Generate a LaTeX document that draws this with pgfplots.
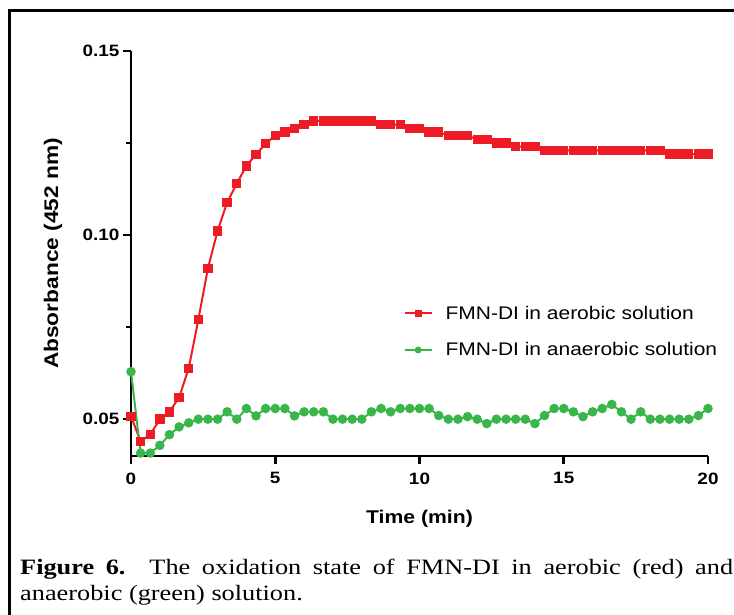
\documentclass[border=0pt]{standalone}
\usepackage{fontspec}
\setmainfont{Liberation Sans}[FakeStretch=1.15]
\newfontfamily\capfont[FakeStretch=1.2]{Liberation Serif}
\usepackage{pgfplots}
\pgfplotsset{compat=1.18}
\definecolor{aerored}{RGB}{237,28,36}
\definecolor{anaegreen}{RGB}{57,181,74}

\begin{document}
\begin{tikzpicture}
\useasboundingbox (0,0) rectangle (734bp,-615bp);
% frame of the cropped figure
\draw[line width=3bp] (9bp,-615bp) -- (9bp,-10.8bp) -- (734bp,-10.8bp);
\begin{axis}[
  at={(131bp,-456bp)}, anchor=south west,
  scale only axis, width=577bp, height=405bp,
  xmin=0, xmax=20, ymin=0.04, ymax=0.15,
  axis lines=left,
  axis line style={-, line width=2.6bp, black},
  every outer x axis line/.append style={-},
  every outer y axis line/.append style={-},
  clip=false,
  xtick={0,5,10,15,20},
  ytick={0.05,0.10,0.15},
  minor ytick={0.075,0.125},
  scaled y ticks=false,
  tick align=outside,
  major tick length=8bp, minor tick length=5bp,
  every tick/.style={black, line width=2.6bp},
  yticklabel style={/pgf/number format/.cd, fixed, fixed zerofill, precision=2},
  xticklabel style={yshift=-5bp},
  /pgf/number format/assume math mode=true,
  tick label style={font=\fontsize{16.5}{18}\selectfont\bfseries},
  xlabel={Time (min)}, ylabel={Absorbance (452 nm)},
  xlabel style={font=\fontsize{18.5}{22}\selectfont\bfseries,
    at={(axis description cs:0.5,-0.1556)}, anchor=center},
  ylabel style={font=\fontsize{19.8}{22}\selectfont\bfseries,
    at={(axis description cs:-0.135,0.5)}, anchor=center},
  legend style={at={(0.467,0.307)}, anchor=west, draw=none, fill=none,
    font=\fontsize{18.3}{22}\selectfont, row sep=18bp,
    /tikz/every odd column/.append style={column sep=11bp}},
  legend cell align=left,
  legend image code/.code={\draw[mark repeat=2, mark phase=2, mark size=2.4bp, #1]
    plot coordinates {(0bp,0bp) (13.5bp,0bp) (27bp,0bp)};},
]
\addplot[aerored, line width=2bp, mark=square*, mark size=3.7bp] coordinates {
(0,0.0508) (0.333,0.044) (0.667,0.0458) (1,0.050) (1.333,0.052) (1.667,0.0559)
(2,0.0638) (2.333,0.077) (2.667,0.091) (3,0.1011) (3.333,0.1089) (3.667,0.114)
(4,0.1188) (4.333,0.1219) (4.667,0.1249) (5,0.127) (5.333,0.128) (5.667,0.129)
(6,0.130) (6.333,0.131) (6.667,0.131) (7,0.131) (7.333,0.131) (7.667,0.131)
(8,0.131) (8.333,0.131) (8.667,0.130) (9,0.130) (9.333,0.130) (9.667,0.129)
(10,0.129) (10.333,0.128) (10.667,0.128) (11,0.127) (11.333,0.127) (11.667,0.127)
(12,0.126) (12.333,0.126) (12.667,0.125) (13,0.125) (13.333,0.124) (13.667,0.124)
(14,0.124) (14.333,0.123) (14.667,0.123) (15,0.123) (15.333,0.123) (15.667,0.123)
(16,0.123) (16.333,0.123) (16.667,0.123) (17,0.123) (17.333,0.123) (17.667,0.123)
(18,0.123) (18.333,0.123) (18.667,0.122) (19,0.122) (19.333,0.122) (19.667,0.122)
(20,0.122)
};
\addlegendentry{FMN-DI in aerobic solution}
\addplot[anaegreen, line width=2bp, mark=*, mark size=3.7bp] coordinates {
(0,0.0629) (0.333,0.0408) (0.667,0.0408) (1,0.0429) (1.333,0.0458) (1.667,0.0479)
(2,0.049) (2.333,0.050) (2.667,0.050) (3,0.050) (3.333,0.052) (3.667,0.050)
(4,0.0529) (4.333,0.0509) (4.667,0.0529) (5,0.0529) (5.333,0.0529) (5.667,0.0509)
(6,0.052) (6.333,0.052) (6.667,0.052) (7,0.050) (7.333,0.050) (7.667,0.050)
(8,0.050) (8.333,0.052) (8.667,0.0529) (9,0.052) (9.333,0.0529) (9.667,0.0529)
(10,0.0529) (10.333,0.0529) (10.667,0.051) (11,0.050) (11.333,0.050) (11.667,0.0507)
(12,0.050) (12.333,0.0488) (12.667,0.050) (13,0.050) (13.333,0.050) (13.667,0.050)
(14,0.0488) (14.333,0.051) (14.667,0.0529) (15,0.0529) (15.333,0.052) (15.667,0.0507)
(16,0.052) (16.333,0.0529) (16.667,0.054) (17,0.052) (17.333,0.050) (17.667,0.052)
(18,0.050) (18.333,0.050) (18.667,0.050) (19,0.050) (19.333,0.050) (19.667,0.051)
(20,0.0529)
};
\addlegendentry{FMN-DI in anaerobic solution}
\end{axis}
\node[anchor=base west, inner sep=0] at (20bp,-574bp)
  {\capfont\fontsize{22}{26}\selectfont\makebox[713bp][s]{\textbf{Figure 6.} The oxidation state of FMN-DI in aerobic (red) and}};
\node[anchor=base west, inner sep=0] at (20bp,-600bp)
  {\capfont\fontsize{22}{26}\selectfont anaerobic (green) solution.};
\end{tikzpicture}
\end{document}
